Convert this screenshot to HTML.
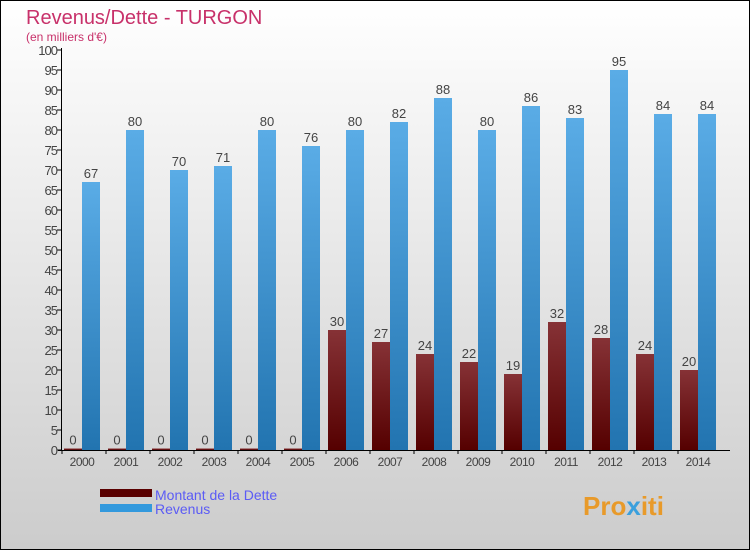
<!DOCTYPE html>
<html><head><meta charset="utf-8"><style>
body{margin:0}
svg{display:block;font-family:"Liberation Sans",sans-serif}
</style></head><body>
<svg width="750" height="550" viewBox="0 0 750 550">
<defs>
<linearGradient id="bg" x1="0" y1="0" x2="0" y2="1"><stop offset="0" stop-color="#ffffff"/><stop offset="1" stop-color="#cccccc"/></linearGradient>
<linearGradient id="gd" x1="0" y1="0" x2="0" y2="1"><stop offset="0" stop-color="#863236"/><stop offset="1" stop-color="#550000"/></linearGradient>
<linearGradient id="gr" x1="0" y1="0" x2="0" y2="1"><stop offset="0" stop-color="#5aace6"/><stop offset="1" stop-color="#2274b0"/></linearGradient>
</defs>
<rect x="0.5" y="0.5" width="749" height="549" fill="url(#bg)" stroke="#000"/>
<text x="26" y="24" font-size="20" fill="#c8316a">Revenus/Dette - TURGON</text>
<text x="26" y="41" font-size="12" fill="#c8316a">(en milliers d'€)</text>
<g id="plot"></g>
<g>
<rect x="100" y="489" width="52" height="8" fill="#5a0000"/>
<text x="155" y="500" font-size="14" fill="#5b5bf5">Montant de la Dette</text>
<rect x="100" y="504" width="52" height="8" fill="#3399dd"/>
<text x="155" y="514" font-size="14" fill="#5b5bf5">Revenus</text>
</g>
<text x="583" y="515" font-size="26" font-weight="bold" fill="#e89a2a">Pro<tspan fill="#3aa0dd">x</tspan>iti</text>
</svg>
<script>
const years=["2000","2001","2002","2003","2004","2005","2006","2007","2008","2009","2010","2011","2012","2013","2014"];
const dette=[0,0,0,0,0,0,30,27,24,22,19,32,28,24,20];
const revenus=[67,80,70,71,80,76,80,82,88,80,86,83,95,84,84];
const yTicks=[0,5,10,15,20,25,30,35,40,45,50,55,60,65,70,75,80,85,90,95,100];
const NS="http://www.w3.org/2000/svg";
const g=document.getElementById('plot');
const y=v=>450-v*4;
const x=i=>64+44*i;
function mk(t,a,txt){const e=document.createElementNS(NS,t);for(const k in a)e.setAttribute(k,a[k]);if(txt!==undefined)e.textContent=txt;g.appendChild(e);return e;}
yTicks.forEach(v=>{
  const l=mk('line',{x1:57,x2:62,y1:y(v),y2:y(v),stroke:'#000'});
  
  
  const t=mk('text',{x:57,y:y(v)+5,'font-size':13,'text-anchor':'end',fill:'#444','letter-spacing':'-1'},v);
  
  
});
years.forEach((yr,i)=>{
  const hd=Math.max(dette[i]*4,1.5);
  const b1=mk('rect',{x:x(i),y:450-hd,width:18,height:hd,fill:'url(#gd)'});
  
  
  const t1=mk('text',{x:x(i)+9,y:450-hd-4,'font-size':13,'text-anchor':'middle',fill:'#444'},dette[i]);
  
  
  const b2=mk('rect',{x:x(i)+18,y:y(revenus[i]),width:18,height:revenus[i]*4,fill:'url(#gr)'});
  
  
  const t2=mk('text',{x:x(i)+27,y:y(revenus[i])-4,'font-size':13,'text-anchor':'middle',fill:'#444'},revenus[i]);
  
  
  const tl=mk('text',{x:x(i)+18,y:466,'font-size':12,'text-anchor':'middle',fill:'#444','letter-spacing':'-0.5'},yr);
  
  
  const tk=mk('line',{x1:x(i)-2,x2:x(i)-2,y1:450,y2:454,stroke:'#000'});
  
  
});
const ya=mk('line',{x1:61.5,x2:61.5,y1:48,y2:451,stroke:'#000'});


const xa=mk('line',{x1:58,x2:730,y1:450.5,y2:450.5,stroke:'#000'});


</script>
</body></html>
